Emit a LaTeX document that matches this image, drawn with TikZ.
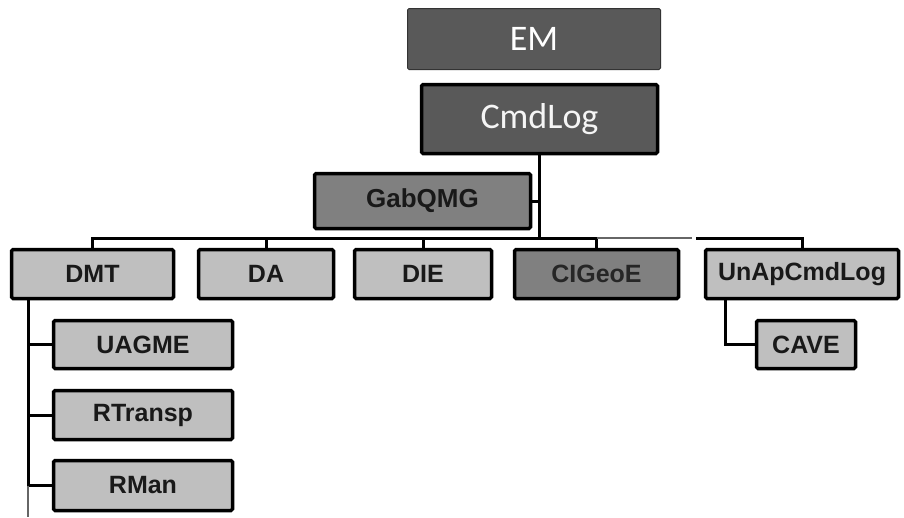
\documentclass[tikz,border=0pt]{standalone}
\usepackage{fontspec}
\setmainfont{Liberation Sans}
\newfontfamily\calibfont{Carlito}
\begin{document}
\begin{tikzpicture}[x=1pt,y=-1pt,
  box/.style={draw=black, line width=3.5pt, rounded corners=1.5pt, inner sep=0pt,
    font=\fontsize{25}{25}\selectfont\bfseries, text=black!90},
  lightbox/.style={box, fill=black!25},
  midbox/.style={box, fill=black!50},
  darkbox/.style={box, fill=black!65, text=white, font=\fontsize{36}{36}\calibfont},
  conn/.style={draw=black, line width=3pt, line cap=rect},
  faint/.style={draw=black!60, line width=1.6pt}]
\useasboundingbox (0,0) rectangle (904,517);
\fill[white] (0,0) rectangle (904,517);
% top
\node[darkbox, line width=1pt, draw=black!80, minimum width=253pt, minimum height=61pt] (em) at (534,39) {EM};
\node[darkbox, text=black!4, minimum width=236pt, minimum height=69pt] (cmd) at (539.5,119) {CmdLog};
\node[midbox, font=\fontsize{26}{26}\selectfont\bfseries, minimum width=216pt, minimum height=55pt] (gab) at (422.5,201) {GabQMG};
% level 2
\node[lightbox, minimum width=162pt, minimum height=49pt] (dmt) at (92.5,274) {DMT};
\node[lightbox, minimum width=135pt, minimum height=49pt] (da) at (266,274) {DA};
\node[lightbox, minimum width=137pt, minimum height=49pt] (die) at (423,274) {DIE};
\node[midbox, text=black!85, minimum width=164pt, minimum height=49pt] (cig) at (596.5,274) {CIGeoE};
\node[lightbox, minimum width=193pt, minimum height=49pt] (unap) at (802,274) {UnApCmdLog};
% level 3
\node[lightbox, minimum width=179pt, minimum height=48pt] (uag) at (143,344.5) {UAGME};
\node[lightbox, minimum width=179pt, minimum height=49pt] (rtr) at (143,415) {RTransp};
\node[lightbox, minimum width=179pt, minimum height=50pt] (rman) at (143,485.5) {RMan};
\node[lightbox, minimum width=99pt, minimum height=48pt] (cave) at (806,344.5) {CAVE};
% connectors
\coordinate (bus) at (0,238);
\coordinate (busend) at (692,238);
\coordinate (busrest) at (697,238);
\coordinate (dmtx) at (28,0);
\coordinate (bottom) at (28,517);
\coordinate (ux) at (725,0);
\draw[conn] (cmd.south) -- (cmd.south |- bus);
\draw[conn] (gab.east) -- (gab.east -| cmd.south);
\draw[conn] (dmt.north) -- (dmt.north |- bus) -- (cig.north |- bus) -- (cig.north);
\draw[conn] (da.north) -- (da.north |- bus);
\draw[conn] (die.north) -- (die.north |- bus);
\draw[faint] (cig.north |- bus) -- (busend);
\draw[conn] (busrest) -- (unap.north |- bus) -- (unap.north);
\draw[conn] (dmt.south -| dmtx) -- (rman.west -| dmtx);
\draw[conn] (uag.west -| dmtx) -- (uag.west);
\draw[conn] (rtr.west -| dmtx) -- (rtr.west);
\draw[conn] (rman.west -| dmtx) -- (rman.west);
\draw[faint] (rman.west -| dmtx) -- (bottom);
\draw[conn] (unap.south -| ux) -- (cave.west -| ux) -- (cave.west);
\end{tikzpicture}
\end{document}
